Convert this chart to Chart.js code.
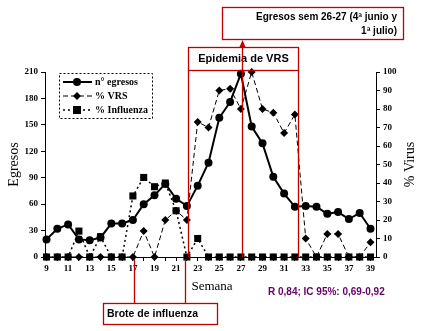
<!DOCTYPE html>
<html>
<head>
<meta charset="utf-8">
<script src="https://cdn.jsdelivr.net/npm/chart.js@4.4.0/dist/chart.umd.min.js"></script>
<style>
  html, body { margin: 0; padding: 0; background: #fff; }
  #wrap { width: 424px; height: 331px; position: relative; }
</style>
</head>
<body>
<div id="wrap"><canvas id="myChart"></canvas></div>
<script>
  // week numbers (x axis)
  const weeks = [9, 10, 11, 12, 13, 14, 15, 16, 17, 18, 19, 20, 21, 22, 23, 24,
                 25, 26, 27, 28, 29, 30, 31, 32, 33, 34, 35, 36, 37, 38, 39];
  // n° egresos (left axis)
  const egresos = [20, 32, 37, 20, 19, 22, 38, 38, 42, 60, 70, 83, 66, 58, 81, 107,
                   158, 176, 208, 148, 129, 91, 72, 57, 58, 57, 49, 51, 43, 50, 32];
  // % VRS (right axis)
  const vrs = [0, 0, 0, 0, 0, 0, 0, 0, 0, 14, 0, 20, 25, 20, 73, 70,
               90, 91, 80, 100, 80, 78, 67, 77, 10, 0, 12.5, 12.5, 0, 0, 8];
  // % Influenza (right axis)
  const influenza = [0, 0, 0, 14, 0, 11, 0, 0, 33, 43, 38, 40, 25, 0, 10, 0,
                     0, 0, 0, 0, 0, 0, 0, 0, 0, 0, 0, 0, 0, 0, 0];
  const leftTicks = [0, 30, 60, 90, 120, 150, 180, 210];
  const rightTicks = [0, 10, 20, 30, 40, 50, 60, 70, 80, 90, 100];

  const RED = '#c00000';
  const serif = '"Liberation Serif", "DejaVu Serif", serif';
  const sans = '"Liberation Sans", Arial, sans-serif';

  const toPts = arr => arr.map((v, i) => ({ x: weeks[i], y: v }));

  // titles, legend and red annotations
  const extras = {
    id: 'extras',
    afterDraw(chart) {
      const c = chart.ctx;
      const xs = chart.scales.x;
      const area = chart.chartArea;
      c.save();

      // axis titles
      c.fillStyle = '#000';
      c.font = '14px ' + serif;
      c.textAlign = 'center';
      c.textBaseline = 'middle';
      c.save();
      c.translate(14, (area.top + area.bottom) / 2);
      c.rotate(-Math.PI / 2);
      c.fillText('Egresos', 0, 0);
      c.restore();
      c.save();
      c.translate(410, (area.top + area.bottom) / 2);
      c.rotate(-Math.PI / 2);
      c.fillText('% Virus', 0, 0);
      c.restore();
      c.font = '13px ' + serif;
      c.fillText('Semana', 212, 287);

      // legend box
      c.setLineDash([2, 2]);
      c.lineWidth = 1;
      c.strokeStyle = '#000';
      c.strokeRect(59.5, 73.5, 93, 45);
      const rows = [
        { y: 82, dash: [], lw: 2, shape: 'circle', text: 'n° egresos' },
        { y: 96, dash: [5, 3], lw: 1, shape: 'diamond', text: '% VRS' },
        { y: 110, dash: [2, 3], lw: 1.5, shape: 'square', text: '% Influenza' }
      ];
      rows.forEach(r => {
        c.setLineDash(r.dash);
        c.lineWidth = r.lw;
        c.beginPath();
        c.moveTo(63, r.y);
        c.lineTo(92, r.y);
        c.stroke();
        c.setLineDash([]);
        c.beginPath();
        if (r.shape === 'circle') c.arc(77, r.y, 4, 0, Math.PI * 2);
        else if (r.shape === 'diamond') {
          c.moveTo(77, r.y - 4); c.lineTo(81, r.y); c.lineTo(77, r.y + 4); c.lineTo(73, r.y);
          c.closePath();
        } else c.rect(73, r.y - 4, 8, 8);
        c.fill();
        c.font = 'bold 10px ' + serif;
        c.textAlign = 'left';
        c.fillText(r.text, 95, r.y);
      });

      // red annotations
      c.strokeStyle = RED;
      c.fillStyle = RED;
      c.lineWidth = 1.3;
      const px = v => Math.round(xs.getPixelForValue(v)) + 0.5;

      // Epidemia de VRS bracket
      const eL = px(22.1), eR = px(32.3);
      c.strokeRect(eL, 47.5, eR - eL, 23);
      c.beginPath();
      c.moveTo(eL, 70); c.lineTo(eL, area.bottom);
      c.moveTo(eR, 70); c.lineTo(eR, area.bottom);
      c.stroke();

      // upper box
      c.strokeRect(222.5, 7.5, 181, 32);

      // Brote de influenza
      const bL = px(17.1), bR = px(21.8);
      c.strokeRect(103.5, 303.5, 114, 21);
      c.beginPath();
      c.moveTo(bL, area.bottom + 2); c.lineTo(bL, 303);
      c.moveTo(bR, area.bottom + 2); c.lineTo(bR, 303);
      c.stroke();

      // texts
      c.fillStyle = '#000';
      c.textBaseline = 'middle';
      c.font = 'bold 11px ' + sans;
      c.textAlign = 'center';
      c.fillText('Epidemia de VRS', (eL + eR) / 2, 59);
      c.font = 'bold 10px ' + sans;
      c.textAlign = 'right';
      c.fillText('Egresos sem 26-27 (4ª junio y', 397, 17);
      c.fillText('1ª julio)', 397, 31);
      c.textAlign = 'left';
      c.font = 'bold 10.5px ' + sans;
      c.fillText('Brote de influenza', 107, 314);
      c.fillStyle = '#660066';
      c.font = 'bold 10px ' + sans;
      c.fillText('R 0,84; IC 95%: 0,69-0,92', 268, 292);

      // arrow wk 26-27
      const aX = px(27.1);
      c.strokeStyle = RED;
      c.fillStyle = RED;
      c.beginPath();
      c.moveTo(aX, area.bottom);
      c.lineTo(aX, 46);
      c.stroke();
      c.beginPath();
      c.moveTo(aX, 40);
      c.lineTo(aX - 3, 47);
      c.lineTo(aX + 3, 47);
      c.closePath();
      c.fill();

      c.restore();
    }
  };

  const tickFont = { family: serif, size: 9, weight: 'bold' };

  new Chart(document.getElementById('myChart'), {
    type: 'line',
    data: {
      datasets: [
        {
          label: 'n° egresos',
          data: toPts(egresos),
          yAxisID: 'y',
          borderColor: '#000',
          backgroundColor: '#000',
          borderWidth: 2,
          pointStyle: 'circle',
          pointRadius: 4,
          pointBorderWidth: 0,
          tension: 0,
          clip: false
        },
        {
          label: '% VRS',
          data: toPts(vrs),
          yAxisID: 'y1',
          borderColor: '#000',
          backgroundColor: '#000',
          borderWidth: 1,
          borderDash: [5, 3],
          pointStyle: 'rectRot',
          pointRadius: 4,
          pointBorderWidth: 0,
          tension: 0,
          clip: false
        },
        {
          label: '% Influenza',
          data: toPts(influenza),
          yAxisID: 'y1',
          borderColor: '#000',
          backgroundColor: '#000',
          borderWidth: 1.5,
          borderDash: [2, 3],
          pointStyle: 'rect',
          pointRadius: 5,
          pointBorderWidth: 0,
          tension: 0,
          clip: false
        }
      ]
    },
    options: {
      responsive: true,
      maintainAspectRatio: false,
      animation: false,
      layout: { padding: { top: 72, left: 0, right: 0, bottom: 0 } },
      plugins: {
        legend: { display: false },
        tooltip: { enabled: false }
      },
      scales: {
        x: {
          type: 'linear',
          min: 8.86,
          max: 39.51,
          afterBuildTicks: s => { s.ticks = weeks.map(v => ({ value: v })); },
          afterFit: s => { s.height = 74; },
          ticks: {
            color: '#000',
            font: tickFont,
            padding: 2,
            maxRotation: 0,
            autoSkip: false,
            callback: v => (v % 2 === 1 ? String(v) : '')
          },
          grid: { drawOnChartArea: false, tickLength: 4, color: '#000' },
          border: { color: '#000', dash: [4, 2] }
        },
        y: {
          position: 'left',
          min: 0,
          max: 210,
          afterBuildTicks: s => { s.ticks = leftTicks.map(v => ({ value: v })); },
          afterFit: s => { s.width = 45; },
          ticks: { color: '#000', font: tickFont, padding: 3 },
          grid: { drawOnChartArea: false, tickLength: 4, color: '#000' },
          border: { color: '#000', dash: [4, 2] }
        },
        y1: {
          position: 'right',
          min: 0,
          max: 100,
          afterBuildTicks: s => { s.ticks = rightTicks.map(v => ({ value: v })); },
          afterFit: s => { s.width = 48; },
          ticks: { color: '#000', font: tickFont, padding: 3 },
          grid: { drawOnChartArea: false, tickLength: 4, color: '#000' },
          border: { color: '#000' }
        }
      }
    },
    plugins: [extras]
  });
</script>
</body>
</html>
